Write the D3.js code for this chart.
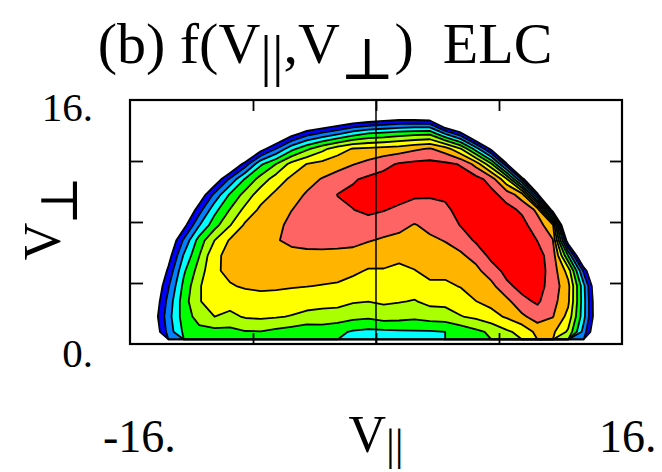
<!DOCTYPE html>
<html>
<head>
<meta charset="utf-8">
<script src="https://cdn.jsdelivr.net/npm/d3@7"></script>
<style>
  html, body { margin: 0; padding: 0; background: #ffffff; }
  svg { display: block; }
  text { font-family: "Liberation Serif", "DejaVu Serif", serif; fill: #000; }
</style>
</head>
<body>
<svg id="chart" width="662" height="472"></svg>
<script>
// f(V_par, V_perp) sampled on a 32 x 16 grid, written in contour-level units
// (level 1 = outermost contour, level 9 = innermost).
const vParCentres = d3.range(32).map(i => -15.5 + i);   // column centres
const vPerpCentres = d3.range(16).map(j => 0.8 + j);    // row centres, bottom row first

const fLevel = [
  [-2.3,-0.13,2.4,4.2,4.68,4.68,4.68,4.94,4.96,4.75,4.55,4.41,4.48,4.2,3.9,3.75,3.8,3.85,3.9,3.9,4.0,4.3,4.78,5.17,5.84,6.3,7.3,7.2,5.82,2.6,-1.0,-5],
  [-1.9,0.26,2.63,4.48,5.41,6.0,5.76,6.11,6.19,6.09,5.94,5.64,5.6,5.58,5.3,5.19,5.47,5.4,5.25,5.46,5.55,5.95,6.22,6.67,7.13,7.8,8.5,8.05,6.67,3.35,-0.5,-5],
  [-2.3,-0.06,2.38,4.56,5.95,6.35,6.39,6.68,6.78,6.66,6.54,6.55,6.37,6.3,6.1,6.02,6.15,6.06,5.94,6.26,6.28,6.52,6.99,7.29,7.72,8.75,9.15,8.35,7.2,3.4,-0.6,-5],
  [-2.6,-0.41,1.9,4.29,5.87,6.9,6.95,7.07,7.11,7.12,7.07,7.02,6.96,6.88,6.64,6.47,6.54,6.43,6.46,6.84,6.82,7.05,7.36,7.72,8.79,9.3,9.4,8.55,7.3,3.3,-1.0,-5],
  [-3.2,-1.0,1.23,3.83,5.47,6.9,7.15,7.24,7.29,7.43,7.43,7.44,7.41,7.37,7.19,6.92,6.93,6.79,6.97,7.23,7.26,7.45,7.74,8.52,9.3,9.5,9.5,8.55,6.58,1.8,-2.2,-6],
  [-4.0,-1.7,0.49,3.11,4.97,6.85,7.2,7.4,7.55,7.74,7.8,7.85,7.85,7.83,7.76,7.48,7.39,7.22,7.32,7.54,7.65,7.85,8.34,9.3,9.5,9.6,9.3,8.6,3.97,-1.5,-4.0,-6],
  [-5,-2.4,-0.23,2.16,4.44,6.0,7.11,7.39,7.67,7.95,8.15,8.2,8.22,8.2,8.2,8.06,7.88,7.75,7.66,7.85,8.04,8.42,9.15,9.5,9.6,9.5,8.98,8.05,0.05,-3.3,-6,-6],
  [-6,-4,-1.6,0.59,2.93,4.61,5.93,7.17,7.45,7.75,8.25,8.4,8.55,8.55,8.6,8.63,8.44,8.27,7.95,8.23,8.41,9.05,9.4,9.6,9.5,9.3,8.47,7.23,-3.84,-6,-6,-6],
  [-6,-5,-2.8,-0.6,1.56,3.67,5.04,6.3,7.21,7.5,7.98,8.3,8.6,8.85,8.98,9.2,9.05,8.8,8.58,8.66,8.79,9.35,9.6,9.5,9.3,8.84,7.76,0.2,-6,-6,-6,-6],
  [-6,-6,-4.3,-2.1,0.11,2.25,4.12,5.36,6.56,7.2,7.6,8.1,8.45,9.02,9.2,9.5,9.5,9.4,9.15,9.1,9.2,9.5,9.5,9.3,8.6,7.43,1.4,-6,-6,-6,-6,-6],
  [-6,-6,-5,-3.2,-2.1,0.09,2.22,4.15,5.42,6.51,7.21,7.65,8.07,8.41,8.9,9.2,9.35,9.5,9.5,9.5,9.5,9.35,9.4,8.6,6.15,1.8,-3.6,-6,-6,-6,-6,-6],
  [-6,-6,-6,-5,-5,-2.9,-0.73,1.49,3.81,5.0,6.34,7.02,7.31,7.64,7.95,8.3,8.72,9.1,9.25,9.3,9.2,8.94,7.62,5.15,1.2,-6,-6,-6,-6,-6,-6,-6],
  [-6,-6,-6,-6,-6,-6,-3.5,-2.0,0.47,2.0,3.67,4.79,5.72,6.5,7.07,7.2,7.33,7.5,7.82,8.1,7.5,6.07,3.5,0.65,-3.9,-6,-6,-6,-6,-6,-6,-6],
  [-6,-6,-6,-6,-6,-6,-6,-6,-4.4,-1.0,0.45,1.54,2.19,2.81,3.53,4.05,4.23,4.48,4.67,4.75,2.93,1.34,-1.37,-3.8,-6,-6,-6,-6,-6,-6,-6,-6],
  [-6,-6,-6,-6,-6,-6,-6,-6,-6,-5,-4,-1.64,-1.38,-0.83,-0.3,0.03,0.31,0.56,0.54,0.37,-2.35,-3.44,-6,-6,-6,-6,-6,-6,-6,-6,-6,-6],
  [-6,-6,-6,-6,-6,-6,-6,-6,-6,-6,-6,-6,-6,-6,-4,-4,-4,-4,-4,-4,-6,-6,-6,-6,-6,-6,-6,-6,-6,-6,-6,-6]
];

const levels = [1, 2, 3, 4, 5, 6, 7, 8, 9];
const levelColors = ["#0000ff", "#0080ff", "#00ffff", "#00ff00", "#aaff00",
                     "#ffff00", "#ffb400", "#ff6464", "#ff0000"];

const vParDomain = [-16, 16];
const vPerpDomain = [0, 16];
const xTickValues = [-8, 0, 8];
const yTickValues = [4, 8, 12];
const xRangeLabels = ["-16.", "16."];
const yRangeLabels = ["0.", "16."];

const svg = d3.select("#chart");
const x = d3.scaleLinear().domain(vParDomain).range([130, 622]);
const y = d3.scaleLinear().domain(vPerpDomain).range([344, 100]);

// grid index space -> velocity space -> pixels
const dv = vParCentres[1] - vParCentres[0];
const dw = vPerpCentres[1] - vPerpCentres[0];
const v0 = vParCentres[0] - dv / 2;
const w0 = vPerpCentres[0] - dw / 2;
const toPixels = d3.geoTransform({
  point(gx, gy) { this.stream.point(x(v0 + gx * dv), y(w0 + gy * dw)); }
});
const path = d3.geoPath(toPixels);

const nx = vParCentres.length, ny = vPerpCentres.length;
const values = fLevel.flat();
const bands = d3.contours().size([nx, ny]).thresholds(levels)(values);

svg.append("clipPath").attr("id", "plot-area")
  .append("rect")
  .attr("x", x(vParDomain[0])).attr("y", y(vPerpDomain[1]))
  .attr("width", x(vParDomain[1]) - x(vParDomain[0]))
  .attr("height", y(vPerpDomain[0]) - y(vPerpDomain[1]));

const plot = svg.append("g").attr("clip-path", "url(#plot-area)");

plot.append("g").selectAll("path")
  .data(bands).join("path")
  .attr("d", path)
  .attr("fill", (d, i) => levelColors[i])
  .attr("stroke", "none");

plot.append("g").selectAll("path")
  .data(bands).join("path")
  .attr("d", path)
  .attr("fill", "none")
  .attr("stroke", "#000")
  .attr("stroke-width", 1.8)
  .attr("stroke-linejoin", "round");

// V_par = 0 line
svg.append("line")
  .attr("x1", x(0)).attr("x2", x(0))
  .attr("y1", y(vPerpDomain[0])).attr("y2", y(vPerpDomain[1]))
  .attr("stroke", "#000").attr("stroke-width", 1.5);

// inward ticks on all four sides
function styleAxis(g) {
  g.select(".domain").remove();
  g.selectAll(".tick line").attr("stroke", "#000").attr("stroke-width", 1.8);
  g.selectAll(".tick text").remove();
}
svg.append("g").attr("transform", `translate(0,${y(0)})`)
  .call(d3.axisBottom(x).tickValues(xTickValues).tickSize(-11)).call(styleAxis);
svg.append("g").attr("transform", `translate(0,${y(16)})`)
  .call(d3.axisTop(x).tickValues(xTickValues).tickSize(-11)).call(styleAxis);
svg.append("g").attr("transform", `translate(${x(-16)},0)`)
  .call(d3.axisLeft(y).tickValues(yTickValues).tickSize(-13)).call(styleAxis);
svg.append("g").attr("transform", `translate(${x(16)},0)`)
  .call(d3.axisRight(y).tickValues(yTickValues).tickSize(-12)).call(styleAxis);

// frame
svg.append("rect")
  .attr("x", x(-16)).attr("y", y(16))
  .attr("width", x(16) - x(-16)).attr("height", y(0) - y(16))
  .attr("fill", "none").attr("stroke", "#000").attr("stroke-width", 2.2);

// range labels
svg.append("text").attr("x", 93).attr("y", 121).attr("text-anchor", "end")
  .attr("font-size", 41).text(yRangeLabels[1]);
svg.append("text").attr("x", 93).attr("y", 367).attr("text-anchor", "end")
  .attr("font-size", 41).text(yRangeLabels[0]);
svg.append("text").attr("x", 103).attr("y", 452).attr("text-anchor", "start")
  .attr("font-size", 46).text(xRangeLabels[0]);
svg.append("text").attr("x", 599).attr("y", 452).attr("text-anchor", "start")
  .attr("font-size", 46).text(xRangeLabels[1]);

// title
const title = svg.append("text").attr("x", 325).attr("y", 63)
  .attr("text-anchor", "middle").attr("font-size", 58);
title.append("tspan").text("(b) f(V");
title.append("tspan").attr("dy", 12).text("||");
title.append("tspan").attr("dy", -12).text(",V");
title.append("tspan").attr("dy", 16).text("\u22A5");
title.append("tspan").attr("dy", -16).text(")\u00A0\u00A0ELC");

// axis titles
const xl = svg.append("text").attr("x", 376).attr("y", 452)
  .attr("text-anchor", "middle").attr("font-size", 52);
xl.append("tspan").text("V");
xl.append("tspan").attr("dy", 8).attr("font-size", 44).text("||");

const yl = svg.append("text").attr("transform", "translate(60,218) rotate(-90)")
  .attr("text-anchor", "middle").attr("font-size", 52);
yl.append("tspan").text("V");
yl.append("tspan").attr("dy", 17).attr("dx", -2).text("\u22A5");
</script>
</body>
</html>
